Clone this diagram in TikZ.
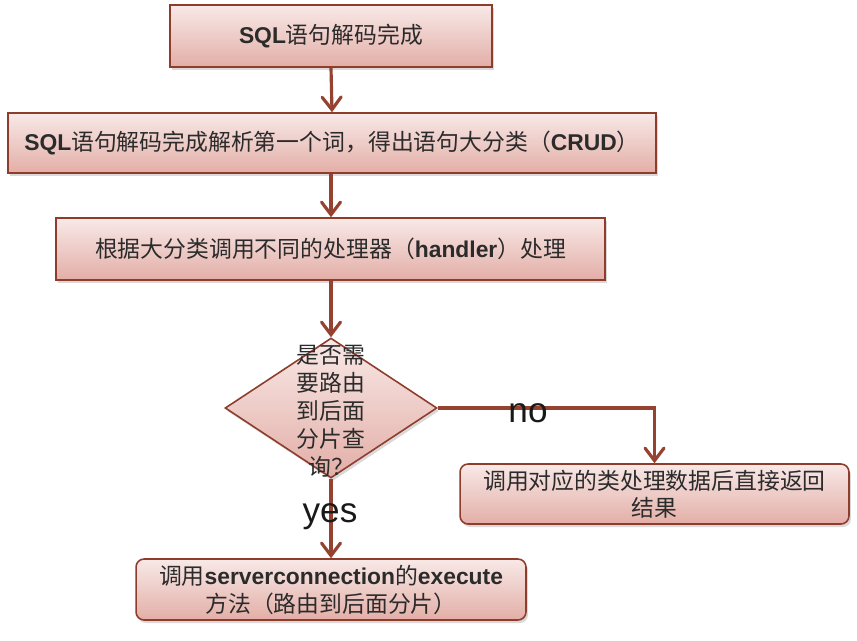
\documentclass[tikz,border=0pt]{standalone}
\usepackage{fontspec}
\setmainfont{Noto Sans CJK SC}
\newfontfamily\arial{Liberation Sans}
\usetikzlibrary{shapes.geometric,shadows,arrows.meta}
\definecolor{edge}{HTML}{8E3D2D}
\definecolor{ln}{HTML}{954230}
\definecolor{ftop}{HTML}{F8E9E7}
\definecolor{fbot}{HTML}{E3AEA7}
\definecolor{txt}{HTML}{2B2B2B}
\newcommand{\lb}[1]{{\arial\bfseries #1}}
\begin{document}
\begin{tikzpicture}[x=0.02cm,y=-0.02cm,
  box/.style={draw=edge, line width=0.9pt, top color=ftop, bottom color=fbot,
    drop shadow={opacity=0.3,shadow xshift=0.04cm,shadow yshift=-0.06cm},
    inner sep=0pt, align=center, text=txt, font=\fontsize{13}{15.5}\selectfont},
  rbox/.style={box, rounded corners=0.16cm},
  arr/.style={draw=ln, line width=1.8pt, -{Straight Barb[length=0.25cm,width=0.38cm,line cap=round]}},
  lab/.style={text=black!90, font=\arial\fontsize{20}{24}\selectfont, inner sep=0pt},
]
\useasboundingbox (0,0) rectangle (857,640);

\node[box, minimum width=6.44cm, minimum height=1.24cm] (b1) at (331,36) {\lb{SQL}语句解码完成};
\node[box, minimum width=12.96cm, minimum height=1.2cm] (b2) at (332,143)
  {\lb{SQL}语句解码完成解析第一个词，得出语句大分类（\lb{CRUD}）};
\node[box, minimum width=10.98cm, minimum height=1.24cm] (b3) at (330.5,249)
  {根据大分类调用不同的处理器（\lb{handler}）处理};
\node[box, shape=diamond, minimum width=4.24cm, minimum height=2.8cm, aspect=1.5] (d) at (331,408) {};
\node[align=center, text=txt, inner sep=0pt, font=\fontsize{13}{16}\selectfont] (dt) at (331,411)
  {是否需\\要路由\\到后面\\分片查\\询？};
\node[rbox, minimum width=7.78cm, minimum height=1.2cm] (b4) at (654.5,494)
  {调用对应的类处理数据后直接返回\\结果};
\node[rbox, minimum width=7.8cm, minimum height=1.22cm, font=\fontsize{13}{16}\selectfont] (b5) at (331,589.5)
  {调用\lb{serverconnection}的\lb{execute}\\方法（路由到后面分片）};

\draw[arr] (b1.south) -- (b2.north);
\draw[arr] (b2.south -| b1.south) -- (b3.north -| b1.south);
\draw[arr] (b3.south -| d.north) -- (d.north);
\draw[arr] (d.south) -- (b5.north);
\draw[arr] (d.east) -| (b4.north);

\node[lab] (no) at (528,413) {no};
\node[lab] (yes) at (330,517) {yes};
\end{tikzpicture}
\end{document}
